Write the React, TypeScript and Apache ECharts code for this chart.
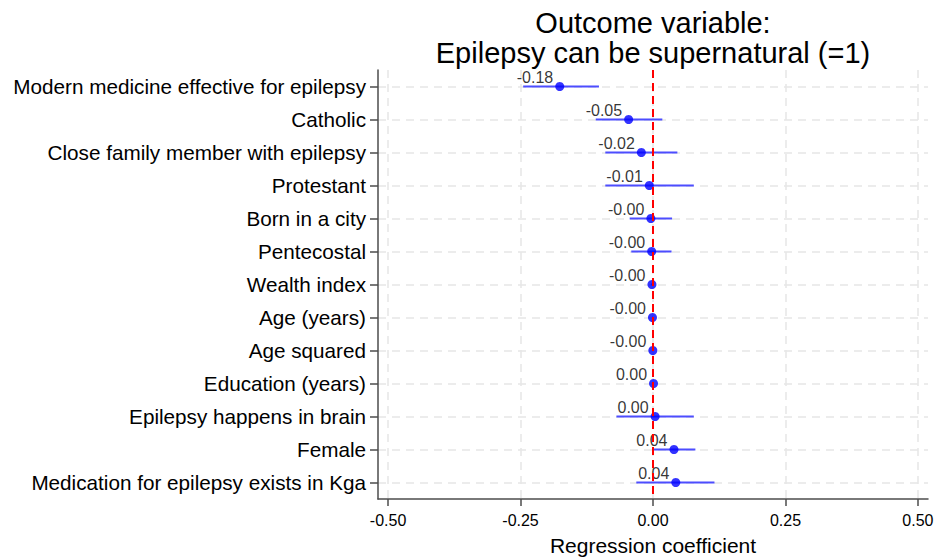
import React, { useEffect, useRef } from "react";
import * as echarts from "echarts";

const categories = [
  "Modern medicine effective for epilepsy",
  "Catholic",
  "Close family member with epilepsy",
  "Protestant",
  "Born in a city",
  "Pentecostal",
  "Wealth index",
  "Age (years)",
  "Age squared",
  "Education (years)",
  "Epilepsy happens in brain",
  "Female",
  "Medication for epilepsy exists in Kga",
];
const estimates = [-0.176, -0.046, -0.022, -0.007, -0.004, -0.0025, -0.002, -0.001, -0.0003, 0.001, 0.004, 0.0396, 0.043];
const ciLow = [-0.245, -0.108, -0.09, -0.09, -0.044, -0.041, -0.004, -0.002, -0.0006, 0.0, -0.069, -0.001, -0.0315];
const ciHigh = [-0.102, 0.0176, 0.046, 0.077, 0.036, 0.035, 0.0, 0.0, 0.0, 0.002, 0.077, 0.08, 0.116];
const xTicks = [-0.5, -0.25, 0, 0.25, 0.5];
const rowTicks = categories.map((_, i) => i);

const FONT = "Liberation Sans, Arial, Helvetica, sans-serif";

export default function App() {
  const ref = useRef<HTMLDivElement>(null);
  useEffect(() => {
    if (!ref.current) return;
    const chart = echarts.init(ref.current, null, { renderer: "svg" });
    const pointData = estimates.map((v, i) => [v, i]);
    const ciData = categories.map((_, i) => [ciLow[i], ciHigh[i], i]);
    chart.setOption({
      animation: false,
      backgroundColor: "#ffffff",
      textStyle: { fontFamily: FONT },
      title: {
        text: "Outcome variable:\nEpilepsy can be supernatural (=1)",
        left: 653,
        textAlign: "center",
        top: 8,
        padding: 0,
        textStyle: {
          fontFamily: FONT,
          fontSize: 29,
          fontWeight: "normal",
          color: "#000",
          lineHeight: 30,
        },
      },
      grid: { left: 378, right: 8, top: 70, bottom: 59, containLabel: false, outerBoundsMode: "none" },
      xAxis: {
        type: "value",
        min: -0.519,
        max: 0.519,
        name: "Regression coefficient",
        nameLocation: "middle",
        nameGap: 36,
        nameTextStyle: { fontFamily: FONT, fontSize: 21, color: "#000" },
        axisLine: { show: true, onZero: false, lineStyle: { color: "#4d4d4d", width: 1.5 } },
        axisTick: { show: true, length: 7, customValues: xTicks, lineStyle: { color: "#4d4d4d", width: 1.5 } },
        axisLabel: {
          customValues: xTicks,
          formatter: (v: number) => v.toFixed(2),
          fontFamily: FONT,
          fontSize: 16,
          color: "#000",
          margin: 13,
        },
        splitLine: { show: true, lineStyle: { color: "#e6e6e6", width: 1.5, type: [8, 6] } },
      },
      yAxis: {
        type: "value",
        inverse: true,
        min: -0.5,
        max: 12.5,
        axisLine: { show: true, onZero: false, lineStyle: { color: "#4d4d4d", width: 1.5 } },
        axisTick: { show: true, length: 8, customValues: rowTicks, lineStyle: { color: "#4d4d4d", width: 1.5 } },
        axisLabel: {
          customValues: rowTicks,
          formatter: (v: number) => categories[Math.round(v)] ?? "",
          fontFamily: FONT,
          fontSize: 20.7,
          color: "#000",
          margin: 12,
        },
        splitLine: { show: true, lineStyle: { color: "#e6e6e6", width: 1.5, type: [8, 6] } },
      },
      series: [
        {
          type: "custom",
          data: ciData,
          encode: { x: [0, 1], y: 2 },
          renderItem: (params: any, api: any) => {
            const p1 = api.coord([api.value(0), api.value(2)]);
            const p2 = api.coord([api.value(1), api.value(2)]);
            return {
              type: "line",
              shape: { x1: p1[0], y1: p1[1], x2: p2[0], y2: p2[1] },
              style: { stroke: "#4d4dff", lineWidth: 2 },
            };
          },
          z: 2,
        },
        {
          type: "scatter",
          data: pointData,
          symbol: "circle",
          symbolSize: 9,
          itemStyle: { color: "#0000ff" },
          label: {
            show: true,
            position: "left",
            distance: 2,
            offset: [0, -9],
            formatter: (p: any) => estimates[p.dataIndex].toFixed(2),
            fontFamily: FONT,
            fontSize: 16,
            color: "#000",
          },
          markLine: {
            silent: true,
            symbol: "none",
            label: { show: false },
            lineStyle: { color: "#ff0000", width: 2, type: [8, 5] },
            data: [{ xAxis: 0 }],
          },
          z: 3,
        },
      ],
    });
    return () => chart.dispose();
  }, []);
  return (
    <div
      ref={ref}
      style={{ position: "absolute", left: 0, top: 0, width: 936, height: 558 }}
    />
  );
}
